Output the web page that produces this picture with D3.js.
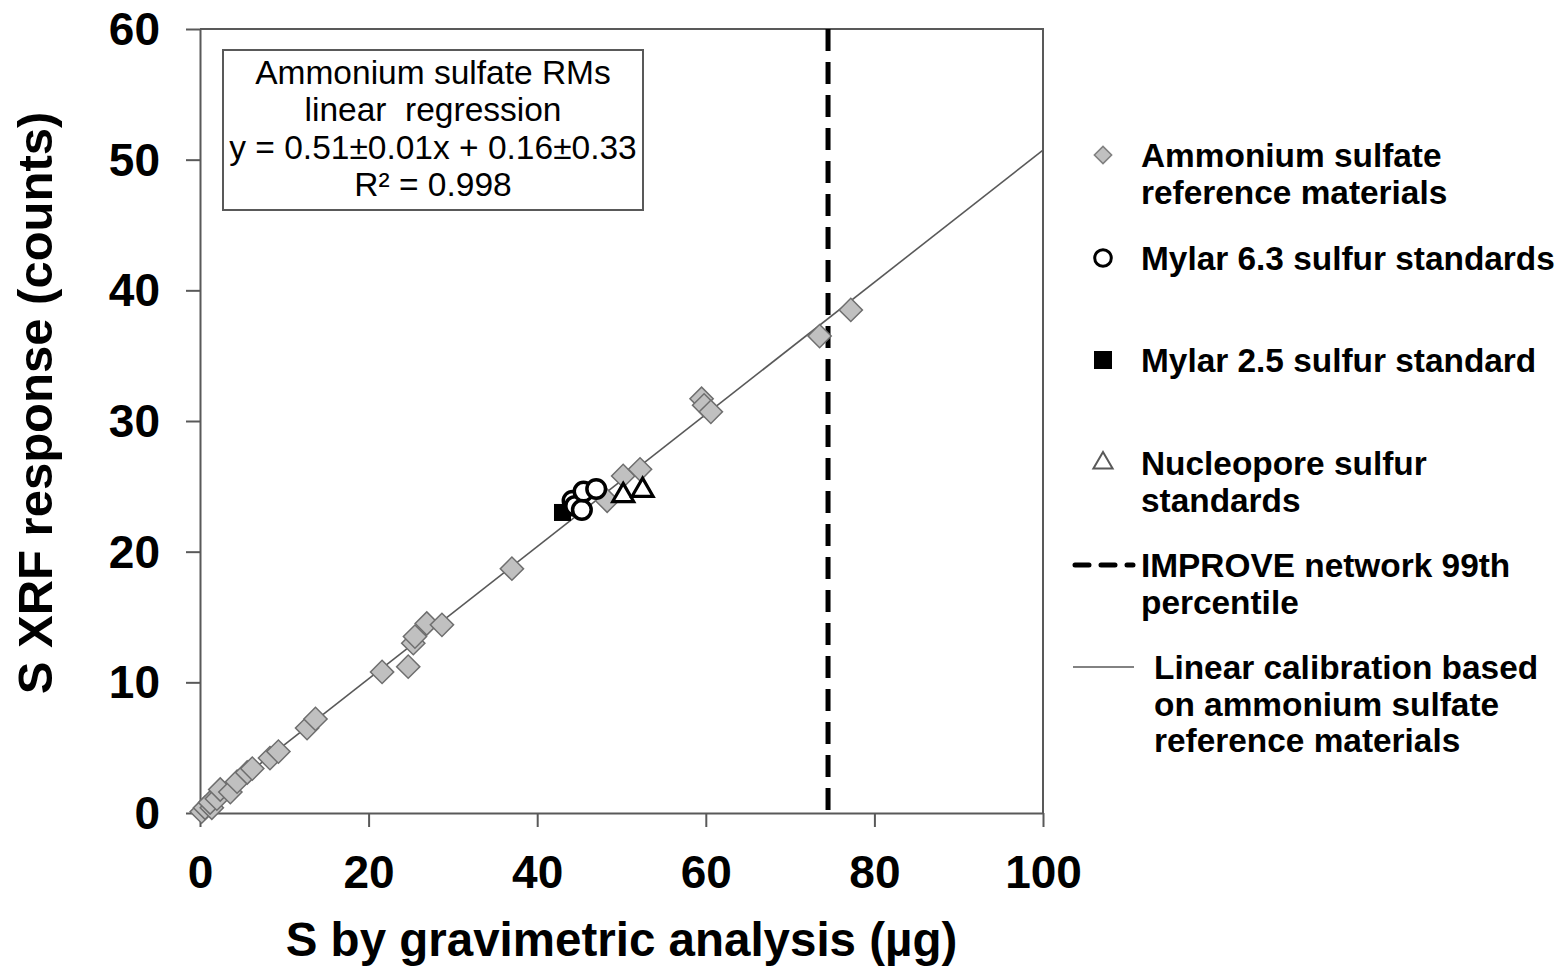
<!DOCTYPE html>
<html>
<head>
<meta charset="utf-8">
<script src="https://cdn.jsdelivr.net/npm/d3@7"></script>
<style>
  html, body { margin: 0; padding: 0; background: #fff; }
  svg { display: block; font-family: "Liberation Sans", Arial, sans-serif; }
  text { white-space: pre; }
</style>
</head>
<body>
<svg id="chart" width="1562" height="971"></svg>
<script>
// ---- Data ----
const ammoniumX = [0.2, 0.6, 1.4, 1.2, 2.0, 2.4, 3.6, 4.4, 5.6, 6.2, 8.3, 9.3, 12.7, 13.7, 21.6, 24.7, 25.3, 25.5, 26.9, 28.7, 37.0, 48.3, 50.2, 52.2, 59.5, 59.8, 60.6, 73.5, 77.2];
const ammoniumY = [0.1, 0.4, 0.4, 0.8, 1.1, 1.8, 1.6, 2.4, 3.1, 3.4, 4.2, 4.7, 6.5, 7.2, 10.8, 11.2, 13.0, 13.5, 14.5, 14.4, 18.7, 23.9, 25.8, 26.3, 31.7, 31.2, 30.7, 36.5, 38.5];
const mylar63X = [44.2, 44.5, 45.3, 45.5, 47.0];
const mylar63Y = [23.9, 23.5, 23.2, 24.6, 24.8];
const mylar25X = [43.0];
const mylar25Y = [23.0];
const nucleoporeX = [50.2, 52.5];
const nucleoporeY = [24.3, 24.7];
const improve99th = 74.5;
const fitSlope = 0.5057;
const fitIntercept = 0.16;
const xTicks = [0, 20, 40, 60, 80, 100];
const yTicks = [0, 10, 20, 30, 40, 50, 60];
const boxLines = ["Ammonium sulfate RMs", "linear  regression", "y = 0.51\u00b10.01x + 0.16\u00b10.33", "R\u00b2 = 0.998"];
const legendItems = [
  { key: "diamond", lines: ["Ammonium sulfate", "reference materials"] },
  { key: "circle", lines: ["Mylar 6.3 sulfur standards"] },
  { key: "square", lines: ["Mylar 2.5 sulfur standard"] },
  { key: "triangle", lines: ["Nucleopore sulfur", "standards"] },
  { key: "dash", lines: ["IMPROVE network 99th", "percentile"] },
  { key: "line", lines: ["Linear calibration based", "on ammonium sulfate", "reference materials"] }
];

// ---- Layout ----
const svg = d3.select("#chart");
const x = d3.scaleLinear().domain([0, 100]).range([200, 1043]);
const y = d3.scaleLinear().domain([0, 60]).range([813, 29]);
const frameColor = "#595959";

// Frame (top & right borders)
svg.append("path")
  .attr("d", `M${x(0)},${y(60)}H${x(100)}V${y(0)}`)
  .attr("fill", "none").attr("stroke", frameColor).attr("stroke-width", 2);

// Axes
const yAxis = d3.axisLeft(y).tickValues(yTicks).tickSize(14).tickPadding(26).tickSizeOuter(0);
const gy = svg.append("g").attr("transform", `translate(${x(0)},0)`).call(yAxis);
const xAxis = d3.axisBottom(x).tickValues(xTicks).tickSize(14).tickPadding(28).tickSizeOuter(0);
const gx = svg.append("g").attr("transform", `translate(0,${y(0)})`).call(xAxis);
[gx, gy].forEach(g => {
  g.select(".domain").attr("stroke", frameColor).attr("stroke-width", 2);
  g.selectAll(".tick line").attr("stroke", frameColor).attr("stroke-width", 2);
  g.selectAll(".tick text").attr("fill", "#000").attr("font-size", 46).attr("font-weight", "bold")
    .attr("font-family", "'Liberation Sans', Arial, sans-serif");
});
gy.selectAll(".tick text").attr("dy", "0.34em");
gx.selectAll(".tick text").attr("dy", "0.72em");

// Axis titles
svg.append("text").attr("x", (x(0) + x(100)) / 2).attr("y", 956)
  .attr("text-anchor", "middle").attr("font-size", 47.5).attr("font-weight", "bold")
  .text("S by gravimetric analysis (\u00b5g)");
svg.append("text").attr("transform", `translate(52,${(y(0) + y(60)) / 2 - 18}) rotate(-90)`)
  .attr("text-anchor", "middle").attr("font-size", 49).attr("font-weight", "bold")
  .text("S XRF response (counts)");

// Dashed IMPROVE line
svg.append("line")
  .attr("x1", x(improve99th)).attr("x2", x(improve99th))
  .attr("y1", y(60)).attr("y2", y(0))
  .attr("stroke", "#000").attr("stroke-width", 5).attr("stroke-dasharray", "22,11");

// Regression line
svg.append("line")
  .attr("x1", x(0)).attr("y1", y(fitIntercept))
  .attr("x2", x(100)).attr("y2", y(fitSlope * 100 + fitIntercept))
  .attr("stroke", frameColor).attr("stroke-width", 1.6);

// Markers
const diamond = d3.symbol().type(d3.symbolSquare).size(270);
svg.append("g").selectAll("path").data(ammoniumX.map((v, i) => [v, ammoniumY[i]]))
  .join("path")
  .attr("d", diamond)
  .attr("transform", d => `translate(${x(d[0])},${y(d[1])}) rotate(45)`)
  .attr("fill", "#c0c0c0").attr("stroke", "#6e6e6e").attr("stroke-width", 1.5);

svg.append("g").selectAll("rect").data(mylar25X.map((v, i) => [v, mylar25Y[i]]))
  .join("rect")
  .attr("x", d => x(d[0]) - 8.5).attr("y", d => y(d[1]) - 8.5)
  .attr("width", 17).attr("height", 17).attr("fill", "#000");

svg.append("g").selectAll("circle").data(mylar63X.map((v, i) => [v, mylar63Y[i]]))
  .join("circle")
  .attr("cx", d => x(d[0])).attr("cy", d => y(d[1])).attr("r", 9.3)
  .attr("fill", "#fff").attr("stroke", "#000").attr("stroke-width", 3.5);

const tri = d3.symbol().type(d3.symbolTriangle).size(190);
svg.append("g").selectAll("path").data(nucleoporeX.map((v, i) => [v, nucleoporeY[i]]))
  .join("path")
  .attr("d", tri)
  .attr("transform", d => `translate(${x(d[0])},${y(d[1])})`)
  .attr("fill", "#fff").attr("stroke", "#000").attr("stroke-width", 3.2);

// Regression annotation box
svg.append("rect").attr("x", 223).attr("y", 50).attr("width", 420).attr("height", 160)
  .attr("fill", "#fff").attr("stroke", frameColor).attr("stroke-width", 2);
svg.append("g").selectAll("text").data(boxLines).join("text")
  .attr("x", 433).attr("y", (d, i) => 84 + i * 37.3)
  .attr("text-anchor", "middle").attr("font-size", 33.5).attr("fill", "#000")
  .text(d => d);

// Legend
const legY = { diamond: 155, circle: 258, square: 360, triangle: 463, dash: 565, line: 667 };
const lg = svg.append("g");
legendItems.forEach(item => {
  const cy = legY[item.key];
  const mx = 1103;
  if (item.key === "diamond") {
    lg.append("path").attr("d", d3.symbol().type(d3.symbolSquare).size(150))
      .attr("transform", `translate(${mx},${cy}) rotate(45)`)
      .attr("fill", "#c0c0c0").attr("stroke", "#7f7f7f").attr("stroke-width", 1.5);
  } else if (item.key === "circle") {
    lg.append("circle").attr("cx", mx).attr("cy", cy).attr("r", 8.3)
      .attr("fill", "#fff").attr("stroke", "#000").attr("stroke-width", 3);
  } else if (item.key === "square") {
    lg.append("rect").attr("x", mx - 9).attr("y", cy - 9).attr("width", 18).attr("height", 18).attr("fill", "#000");
  } else if (item.key === "triangle") {
    lg.append("path").attr("d", d3.symbol().type(d3.symbolTriangle).size(160))
      .attr("transform", `translate(${mx},${cy})`)
      .attr("fill", "#fff").attr("stroke", "#595959").attr("stroke-width", 2);
  } else if (item.key === "dash") {
    lg.append("line").attr("x1", 1075).attr("x2", 1133).attr("y1", cy).attr("y2", cy)
      .attr("stroke", "#000").attr("stroke-width", 5).attr("stroke-dasharray", "14,12")
      .attr("stroke-linecap", "round");
  } else if (item.key === "line") {
    lg.append("line").attr("x1", 1073).attr("x2", 1134).attr("y1", cy).attr("y2", cy)
      .attr("stroke", frameColor).attr("stroke-width", 1.6);
  }
  const tx = item.key === "line" ? 1154 : 1141;
  item.lines.forEach((t, i) => {
    lg.append("text").attr("x", tx).attr("y", cy + 12 + i * 36.7)
      .attr("font-size", 33.4).attr("font-weight", "bold").attr("fill", "#000")
      .text(t);
  });
});
</script>
</body>
</html>
